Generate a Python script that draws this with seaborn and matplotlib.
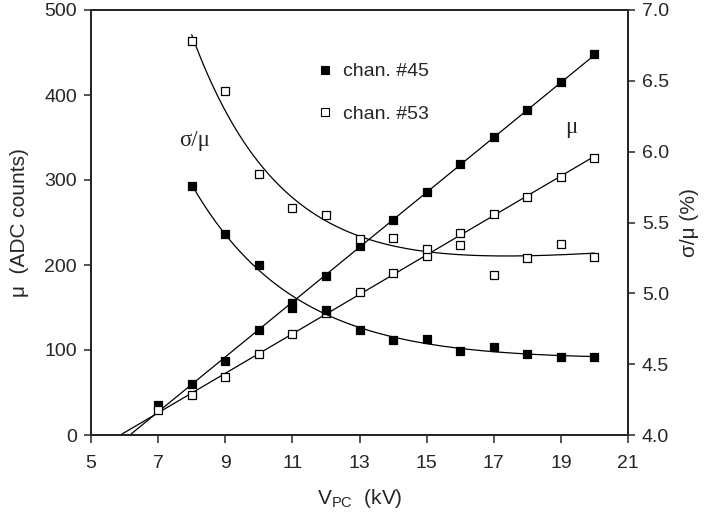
import numpy as np
import pandas as pd
import matplotlib
matplotlib.use("Agg")
import matplotlib.pyplot as plt
import seaborn as sns
from matplotlib.lines import Line2D

# ---- data ----
v_pc = [7, 8, 9, 10, 11, 12, 13, 14, 15, 16, 17, 18, 19, 20]
mu_45 = [35, 60, 87, 124, 150, 187, 222, 253, 286, 319, 351, 382, 415, 448]
mu_53 = [29, 47, 68, 95, 119, 143, 168, 191, 211, 238, 260, 280, 303, 326]

v_res = [8, 9, 10, 11, 12, 13, 14, 15, 16, 17, 18, 19, 20]
res_45 = [5.76, 5.42, 5.20, 4.93, 4.88, 4.74, 4.67, 4.68, 4.59, 4.62, 4.57, 4.55, 4.55]
res_53 = [6.78, 6.43, 5.84, 5.60, 5.55, 5.385, 5.39, 5.31, 5.34, 5.13, 5.25, 5.35, 5.26]

series_labels = ["chan. #45", "chan. #53"]
x_ticks = [5, 7, 9, 11, 13, 15, 17, 19, 21]
y_ticks = [0, 100, 200, 300, 400, 500]
y2_ticks = [4.0, 4.5, 5.0, 5.5, 6.0, 6.5, 7.0]

sns.set_style("ticks")
plt.rcParams["font.family"] = ["Liberation Sans", "DejaVu Sans"]
plt.rcParams["mathtext.fontset"] = "custom"
plt.rcParams["mathtext.rm"] = "Liberation Sans"
plt.rcParams["axes.linewidth"] = 1.4
plt.rcParams["xtick.major.width"] = 1.1
plt.rcParams["ytick.major.width"] = 1.1
plt.rcParams["xtick.major.size"] = 5.5
plt.rcParams["ytick.major.size"] = 5

fig = plt.figure(figsize=(7.04, 5.22), dpi=100)
ax = fig.add_axes([91 / 704, 1 - 435 / 522, (628 - 91) / 704, 425 / 522])
ax2 = ax.twinx()

mu_df = pd.DataFrame({"V": v_pc, "m45": mu_45, "m53": mu_53})
res_df = pd.DataFrame({"V": v_res, "r45": res_45, "r53": res_53})

# linear fits for mu, drawn from the zero crossing to the last point
for col in ["m45", "m53"]:
    k, b = np.polyfit(mu_df["V"], mu_df[col], 1)
    x0 = -b / k
    xs = np.linspace(x0, 20, 50)
    sns.lineplot(x=xs, y=k * xs + b, ax=ax, color="black", lw=0.9, zorder=2)


def decay_fit(x, y):
    """Least squares fit of y = a + b*exp(-k(x-8)) + c*x, k found by grid search."""
    x = np.asarray(x, float)
    y = np.asarray(y, float)
    best = None
    for kk in np.linspace(0.05, 1.5, 300):
        A = np.column_stack([np.ones_like(x), np.exp(-kk * (x - 8)), x])
        coef, *_ = np.linalg.lstsq(A, y, rcond=None)
        err = np.sum((A @ coef - y) ** 2)
        if best is None or err < best[0]:
            best = (err, kk, coef)
    _, kk, coef = best
    return lambda t: coef[0] + coef[1] * np.exp(-kk * (t - 8)) + coef[2] * t


for col in ["r45", "r53"]:
    f = decay_fit(res_df["V"], res_df[col])
    xs = np.linspace(8, 20, 200)
    sns.lineplot(x=xs, y=f(xs), ax=ax2, color="black", lw=0.9, zorder=2)

ms = 34
lw_m = 0.9
sns.scatterplot(data=mu_df, x="V", y="m45", ax=ax, marker="s", s=ms, color="black",
                edgecolor="black", linewidth=lw_m, zorder=3)
sns.scatterplot(data=mu_df, x="V", y="m53", ax=ax, marker="s", s=ms, facecolor="white",
                edgecolor="black", linewidth=lw_m, zorder=3)
sns.scatterplot(data=res_df, x="V", y="r45", ax=ax2, marker="s", s=ms, color="black",
                edgecolor="black", linewidth=lw_m, zorder=3)
sns.scatterplot(data=res_df, x="V", y="r53", ax=ax2, marker="s", s=ms, facecolor="white",
                edgecolor="black", linewidth=lw_m, zorder=3)

ax.set_xlim(5, 21)
ax.set_ylim(0, 500)
ax2.set_ylim(4.0, 7.0)
ax.set_xticks(x_ticks)
ax.set_yticks(y_ticks)
ax2.set_yticks(y2_ticks)
ax2.set_yticklabels([f"{t:.1f}" for t in y2_ticks])
ax.tick_params(axis="x", labelsize=14, pad=9)
ax.tick_params(axis="y", labelsize=14, pad=5)
ax2.tick_params(axis="y", labelsize=14, pad=5)
for a in (ax, ax2):
    for s in a.spines.values():
        s.set_visible(True)
        s.set_linewidth(1.4)

ax.set_xlabel("V$_\\mathregular{PC}$  (kV)", fontsize=15, labelpad=11)
ax.set_ylabel("μ  (ADC counts)", fontsize=15, labelpad=11)
ax2.set_ylabel("σ/μ (%)", fontsize=15, labelpad=8, rotation=90)

ax.text(7.62, 346, "σ/μ", fontsize=16.5, family=["Liberation Serif", "DejaVu Serif"],
        ha="left", va="center")
ax.text(19.12, 362, "μ", fontsize=16.5, family=["Liberation Serif", "DejaVu Serif"],
        ha="left", va="center")

handles = [
    Line2D([], [], marker="s", ls="none", color="black", markersize=5.2, markeredgewidth=0.8),
    Line2D([], [], marker="s", ls="none", markerfacecolor="white", markeredgecolor="black",
           markersize=5.2, markeredgewidth=0.8),
]
ax2.legend(handles, series_labels, loc="upper left", bbox_to_anchor=(0.418, 0.876),
           frameon=False, fontsize=14, handlelength=1.0, handletextpad=0.4,
           labelspacing=1.3, borderaxespad=0, borderpad=0)

fig.savefig("out.png", dpi=100)
